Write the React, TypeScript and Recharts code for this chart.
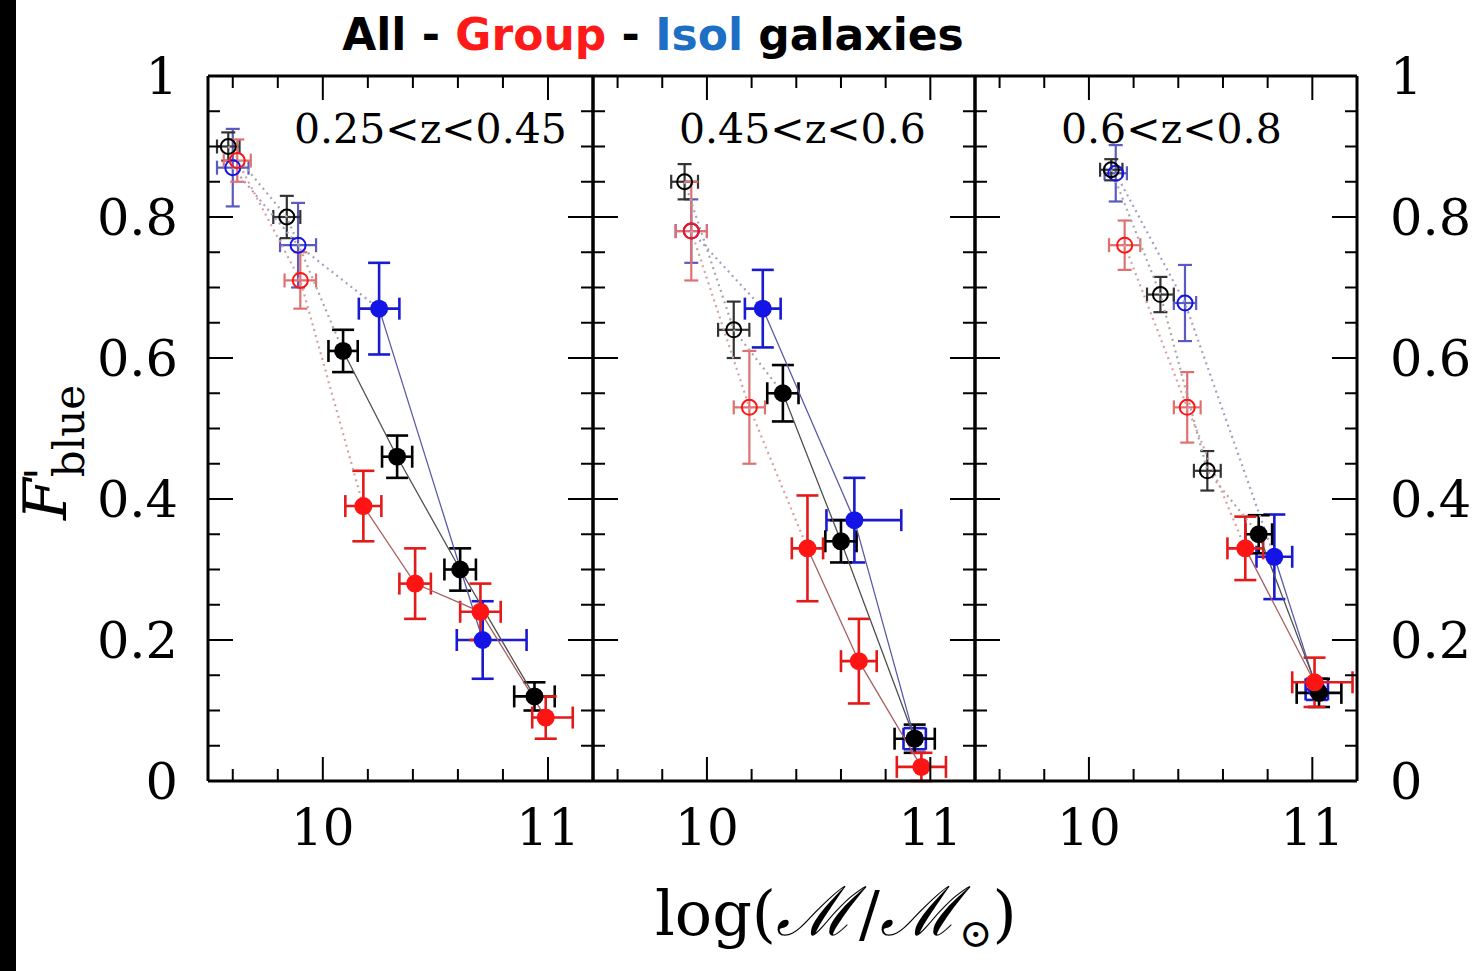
import { ScatterChart, Scatter, XAxis, YAxis, ErrorBar } from 'recharts';

// ─── Axes ─────────────────────────────────────────────────────────────────────

const PANEL_LABELS = ['0.25<z<0.45', '0.45<z<0.6', '0.6<z<0.8'];
const MASS_DOMAIN = [9.49, 11.2];
const MASS_TICKS = [9.6, 9.8, 10, 10.2, 10.4, 10.6, 10.8, 11];
const FBLUE_TICKS = [
  0, 0.05, 0.1, 0.15, 0.2, 0.25, 0.3, 0.35, 0.4, 0.45, 0.5,
  0.55, 0.6, 0.65, 0.7, 0.75, 0.8, 0.85, 0.9, 0.95, 1,
];

// ─── Data: one row per redshift panel ─────────────────────────────────────────
// first N points of each row are the open (incomplete) mass bins

const ALL_MASS = [
  [9.58, 9.84, 10.09, 10.33, 10.61, 10.94],
  [9.9, 10.12, 10.34, 10.6, 10.93],
  [10.1, 10.32, 10.53, 10.76, 11.03],
];
const ALL_FBLUE = [
  [0.9, 0.8, 0.61, 0.46, 0.3, 0.12],
  [0.85, 0.64, 0.55, 0.34, 0.06],
  [0.867, 0.69, 0.44, 0.35, 0.125],
];
const ALL_YERR = [
  [0.02, 0.03, 0.03, 0.03, 0.03, 0.02],
  [0.025, 0.04, 0.04, 0.03, 0.02],
  [0.015, 0.025, 0.028, 0.027, 0.02],
];
const ALL_XERR = [
  [0.05, 0.06, 0.065, 0.067, 0.07, 0.09],
  [0.06, 0.07, 0.07, 0.07, 0.09],
  [0.05, 0.06, 0.06, 0.06, 0.1],
];
const ALL_OPEN = [2, 2, 3];

const GROUP_MASS = [
  [9.62, 9.9, 10.18, 10.41, 10.7, 10.99],
  [9.93, 10.19, 10.45, 10.68, 10.96],
  [10.16, 10.44, 10.7, 11.01],
];
const GROUP_FBLUE = [
  [0.88, 0.71, 0.39, 0.28, 0.24, 0.09],
  [0.78, 0.53, 0.33, 0.17, 0.02],
  [0.76, 0.53, 0.33, 0.14],
];
const GROUP_YERR = [
  [0.03, 0.04, 0.05, 0.05, 0.04, 0.03],
  [0.07, 0.08, 0.075, 0.06, 0.02],
  [0.035, 0.05, 0.045, 0.035],
];
const GROUP_XERR = [
  [0.06, 0.07, 0.08, 0.07, 0.09, [0.06, 0.12]],
  [0.07, 0.07, 0.07, 0.08, 0.11],
  [0.07, 0.06, 0.08, [0.1, 0.17]],
];
const GROUP_OPEN = [2, 2, 2];

const ISOL_MASS = [
  [9.6, 9.89, 10.25, 10.71],
  [9.93, 10.25, 10.66, 10.93],
  [10.12, 10.43, 10.83, 11.02],
];
const ISOL_FBLUE = [
  [0.87, 0.76, 0.67, 0.2],
  [0.78, 0.67, 0.37, 0.06],
  [0.862, 0.678, 0.318, 0.13],
];
const ISOL_YERR = [
  [0.055, 0.06, 0.065, 0.055],
  [0.045, 0.055, 0.06, 0.015],
  [0.04, 0.054, 0.06, 0.015],
];
const ISOL_XERR = [
  [0.07, 0.08, 0.09, [0.115, 0.195]],
  [0.07, 0.08, [0.125, 0.21], 0.05],
  [0.05, 0.05, 0.08, 0.05],
];
const ISOL_OPEN = [2, 1, 2];

// ─── Layout ───────────────────────────────────────────────────────────────────

const W = 1478;
const H = 971;
const PLOT_TOP = 76;
const PLOT_BOTTOM = 781;
const PANEL_EDGES = [
  [208, 593],
  [593, 975],
  [975, 1357],
];

const SERIF = '"DejaVu Serif", serif';

type Pt = { x: number; y: number; ex: number | number[]; ey: number };

interface Population {
  key: string;
  mass: number[][];
  fblue: number[][];
  xerr: (number | number[])[][];
  yerr: number[][];
  open: number[];
  marker: string;
  barOpen: string;
  barFilled: string;
  dotted: string;
  solid: string;
}

// drawn in this order: red on top
const POPULATIONS: Population[] = [
  {
    key: 'isol', mass: ISOL_MASS, fblue: ISOL_FBLUE, xerr: ISOL_XERR, yerr: ISOL_YERR, open: ISOL_OPEN,
    marker: '#1414e6', barOpen: '#5a5ac0', barFilled: '#1a1ad0', dotted: '#a0a0c8', solid: '#5a5aa8',
  },
  {
    key: 'all', mass: ALL_MASS, fblue: ALL_FBLUE, xerr: ALL_XERR, yerr: ALL_YERR, open: ALL_OPEN,
    marker: '#000000', barOpen: '#333333', barFilled: '#000000', dotted: '#a8a8a8', solid: '#505050',
  },
  {
    key: 'group', mass: GROUP_MASS, fblue: GROUP_FBLUE, xerr: GROUP_XERR, yerr: GROUP_YERR, open: GROUP_OPEN,
    marker: '#ff1414', barOpen: '#e07070', barFilled: '#e41a1a', dotted: '#d8a0a0', solid: '#a86060',
  },
];

function toPoints(p: Population, i: number): Pt[] {
  return p.mass[i].map((m, k) => ({ x: m, y: p.fblue[i][k], ex: p.xerr[i][k], ey: p.yerr[i][k] }));
}

// ─── Ticks (drawn inward, labels outside) ─────────────────────────────────────

const isMajorMass = (v: number) => Math.abs(v - Math.round(v)) < 1e-6;
const isMajorFrac = (v: number) => Math.abs(v * 5 - Math.round(v * 5)) < 1e-6;
const fracLabel = (v: number) => (v === 0 ? '0' : v === 1 ? '1' : v.toFixed(1));

function MassTick({ x, y, payload, side, showLabel }: any) {
  const v = payload.value as number;
  const len = isMajorMass(v) ? 24 : 12;
  const dir = side === 'top' ? 1 : -1;
  return (
    <g>
      <line x1={x} x2={x} y1={y} y2={y + dir * len} stroke="#000" strokeWidth={2} />
      {showLabel && isMajorMass(v) && (
        <text x={x} y={y + 64} textAnchor="middle" fontFamily={SERIF} fontSize={50} fill="#000">
          {v.toFixed(0)}
        </text>
      )}
    </g>
  );
}

function FracTick({ x, y, payload, side, showLabel }: any) {
  const v = payload.value as number;
  const len = isMajorFrac(v) ? 25 : 12;
  const dir = side === 'left' ? 1 : -1;
  const edge = v <= 0 || v >= 1;
  return (
    <g>
      {!edge && <line x1={x} x2={x + dir * len} y1={y} y2={y} stroke="#000" strokeWidth={2} />}
      {showLabel && isMajorFrac(v) && (
        <text
          x={side === 'left' ? x - 30 : x + 33}
          y={y + 18}
          textAnchor={side === 'left' ? 'end' : 'start'}
          fontFamily={SERIF}
          fontSize={51}
          fill="#000"
        >
          {fracLabel(v)}
        </text>
      )}
    </g>
  );
}

const emptyShape = () => <g />;
const openDot = (color: string) => (props: any) =>
  <circle cx={props.cx} cy={props.cy} r={7.5} fill="none" stroke={color} strokeWidth={2} />;
const filledDot = (color: string) => (props: any) =>
  <circle cx={props.cx} cy={props.cy} r={9} fill={color} />;

// ─── Panel ────────────────────────────────────────────────────────────────────

// axes get 1px of room each (a zero-size axis is not drawn at all)
function Panel({ index }: { index: number }) {
  const [left, right] = PANEL_EDGES[index];
  const frame = { stroke: '#000', strokeWidth: 3 };
  return (
    <div style={{ position: 'absolute', left: 0, top: 0 }}>
      <ScatterChart
        width={W}
        height={H}
        margin={{ top: PLOT_TOP - 1, right: W - right - 1, bottom: H - PLOT_BOTTOM - 1, left: left - 1 }}
      >
        <XAxis
          xAxisId="bottom"
          orientation="bottom"
          type="number"
          dataKey="x"
          domain={MASS_DOMAIN}
          allowDataOverflow
          ticks={MASS_TICKS}
          interval={0}
          height={1}
          tickSize={0}
          tickMargin={0}
          tickLine={false}
          axisLine={frame}
          tick={(p: any) => <MassTick {...p} side="bottom" showLabel />}
        />
        <XAxis
          xAxisId="top"
          orientation="top"
          type="number"
          dataKey="x"
          domain={MASS_DOMAIN}
          allowDataOverflow
          ticks={MASS_TICKS}
          interval={0}
          height={1}
          tickSize={0}
          tickMargin={0}
          tickLine={false}
          axisLine={frame}
          tick={(p: any) => <MassTick {...p} side="top" />}
        />
        <YAxis
          yAxisId="left"
          orientation="left"
          type="number"
          dataKey="y"
          domain={[0, 1]}
          allowDataOverflow
          ticks={FBLUE_TICKS}
          interval={0}
          width={1}
          tickSize={0}
          tickMargin={0}
          tickLine={false}
          axisLine={frame}
          tick={(p: any) => <FracTick {...p} side="left" showLabel={index === 0} />}
        />
        <YAxis
          yAxisId="right"
          orientation="right"
          type="number"
          dataKey="y"
          domain={[0, 1]}
          allowDataOverflow
          ticks={FBLUE_TICKS}
          interval={0}
          width={1}
          tickSize={0}
          tickMargin={0}
          tickLine={false}
          axisLine={frame}
          tick={(p: any) => <FracTick {...p} side="right" showLabel={index === 2} />}
        />

        {/* dotted links through the incomplete bins */}
        {POPULATIONS.map((p) => (
          <Scatter
            key={`${p.key}-dotted`}
            xAxisId="bottom"
            yAxisId="left"
            data={toPoints(p, index).slice(0, p.open[index] + 1)}
            line={{ stroke: p.dotted, strokeWidth: 2.2, strokeDasharray: '2 4' }}
            lineType="joint"
            shape={emptyShape}
            isAnimationActive={false}
          />
        ))}

        {/* solid links through the complete bins */}
        {POPULATIONS.map((p) => (
          <Scatter
            key={`${p.key}-solid`}
            xAxisId="bottom"
            yAxisId="left"
            data={toPoints(p, index).slice(p.open[index])}
            line={{ stroke: p.solid, strokeWidth: 1.3 }}
            lineType="joint"
            shape={emptyShape}
            isAnimationActive={false}
          />
        ))}

        {POPULATIONS.flatMap((p) => [
          <Scatter
            key={`${p.key}-open`}
            xAxisId="bottom"
            yAxisId="left"
            data={toPoints(p, index).slice(0, p.open[index])}
            shape={openDot(p.marker)}
            isAnimationActive={false}
          >
            <ErrorBar dataKey="ey" direction="y" width={7} stroke={p.barOpen} strokeWidth={2.2} />
            <ErrorBar dataKey="ex" direction="x" width={7} stroke={p.barOpen} strokeWidth={2.2} />
          </Scatter>,
          <Scatter
            key={`${p.key}-filled`}
            xAxisId="bottom"
            yAxisId="left"
            data={toPoints(p, index).slice(p.open[index])}
            shape={filledDot(p.marker)}
            isAnimationActive={false}
          >
            <ErrorBar dataKey="ey" direction="y" width={11} stroke={p.barFilled} strokeWidth={2.6} />
            <ErrorBar dataKey="ex" direction="x" width={11} stroke={p.barFilled} strokeWidth={2.6} />
          </Scatter>,
        ])}
      </ScatterChart>
    </div>
  );
}

// ─── Main Component ───────────────────────────────────────────────────────────

export default function App() {
  return (
    <div style={{ position: 'absolute', left: 0, top: 0, width: W, height: H, background: '#fff', overflow: 'hidden' }}>
      <div style={{ position: 'absolute', left: 0, top: 0, width: 16, height: H, background: '#000' }} />

      {[0, 1, 2].map((i) => (
        <Panel key={i} index={i} />
      ))}

      <svg width={W} height={H} style={{ position: 'absolute', left: 0, top: 0, pointerEvents: 'none' }}>
        {/* title */}
        <text x={653} y={50} textAnchor="middle" fontFamily='"DejaVu Sans", sans-serif' fontWeight="bold" fontSize={44}>
          <tspan fill="#000">All - </tspan>
          <tspan fill="#ff1a1a">Group</tspan>
          <tspan fill="#000"> - </tspan>
          <tspan fill="#1c6fc4">Isol</tspan>
          <tspan fill="#000"> galaxies</tspan>
        </text>

        {PANEL_LABELS.map((label, i) => (
          <text key={label} x={PANEL_EDGES[i][0] + 86} y={143} fontFamily={SERIF} fontSize={41} fill="#000">
            {label}
          </text>
        ))}

        {/* x title */}
        <text x={655} y={935} fontFamily={SERIF} fontSize={62} fill="#000">
          <tspan>log(</tspan>
          <tspan fontStyle="italic" fontSize={68}>ℳ</tspan>
          <tspan dx={4}>/</tspan>
          <tspan fontStyle="italic" fontSize={68}>ℳ</tspan>
          <tspan fontSize={40} dy={12}>⊙</tspan>
          <tspan dy={-12}>)</tspan>
        </text>

        {/* y title */}
        <text x={66} y={520} transform="rotate(-90 66 520)" fontFamily={SERIF} fontSize={60} fill="#000">
          <tspan fontStyle="italic">F</tspan>
          <tspan dx={-2} dy={-6} fontSize={48}>'</tspan>
          <tspan dx={-10} dy={24} fontSize={42}>blue</tspan>
        </text>
      </svg>
    </div>
  );
}
